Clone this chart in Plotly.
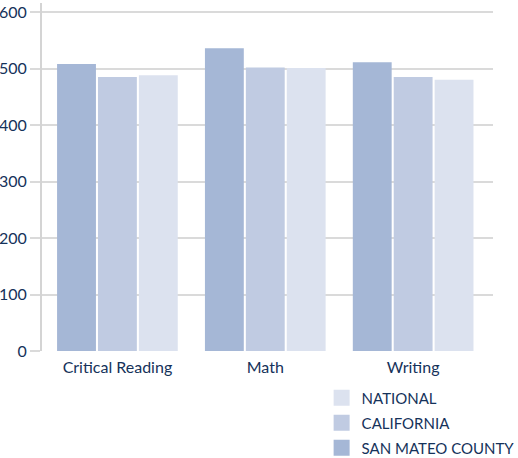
import plotly.graph_objects as go

categories = ["Critical Reading", "Math", "Writing"]
san_mateo = [508, 536, 511]
california = [485, 502, 485]
national = [488, 501, 480]
series_names = ["SAN MATEO COUNTY", "CALIFORNIA", "NATIONAL"]
series_values = [san_mateo, california, national]
colors = ["#a5b7d6", "#c0cbe2", "#dce2ef"]
y_ticks = [0, 100, 200, 300, 400, 500, 600]

TEXT = "#15325a"
FONT = "Lato"

fig = go.Figure()
for name, vals, col in zip(series_names, series_values, colors):
    fig.add_trace(go.Bar(x=categories, y=vals, name=name, marker_color=col,
                         marker_line_width=0, showlegend=False))
# legend entries (larger square swatches), listed top-down as NATIONAL, CALIFORNIA, SAN MATEO
for name, col in zip(series_names[::-1], colors[::-1]):
    fig.add_trace(go.Scatter(x=[None], y=[None], mode="markers", name=name,
                             legendgroup=name,
                             marker=dict(symbol="square", size=17, color=col)))

fig.update_layout(
    width=518, height=458,
    margin=dict(l=42, r=25, t=3, b=107, autoexpand=False),
    plot_bgcolor="white", paper_bgcolor="white",
    barmode="group", bargap=0.17, bargroupgap=0.05,
    font=dict(family=FONT, color=TEXT, size=16),
    showlegend=True,
    legend=dict(x=0.62, y=-0.088, xanchor="left", yanchor="top",
                traceorder="grouped", font=dict(size=15, color=TEXT),
                itemwidth=30, tracegroupgap=2.5, bgcolor="rgba(0,0,0,0)"),
    xaxis=dict(range=[-0.51, 2.54], showgrid=False, zeroline=False,
               showline=False, ticks="", automargin=False, ticklabelstandoff=5,
               tickfont=dict(size=16, color=TEXT)),
    yaxis=dict(range=[0, 616], tickvals=y_ticks, showgrid=True,
               gridcolor="#dadada", gridwidth=1.5, zeroline=False,
               showline=True, linecolor="#d4d4d4", linewidth=2,
               ticks="outside", ticklen=10, tickcolor="#dadada", tickwidth=1.5,
               automargin=False, tickfont=dict(size=16, color=TEXT)),
)
fig.write_html("out.html", config={"displayModeBar": False},
               post_script="document.body.style.margin='0';document.body.style.overflow='hidden';")
